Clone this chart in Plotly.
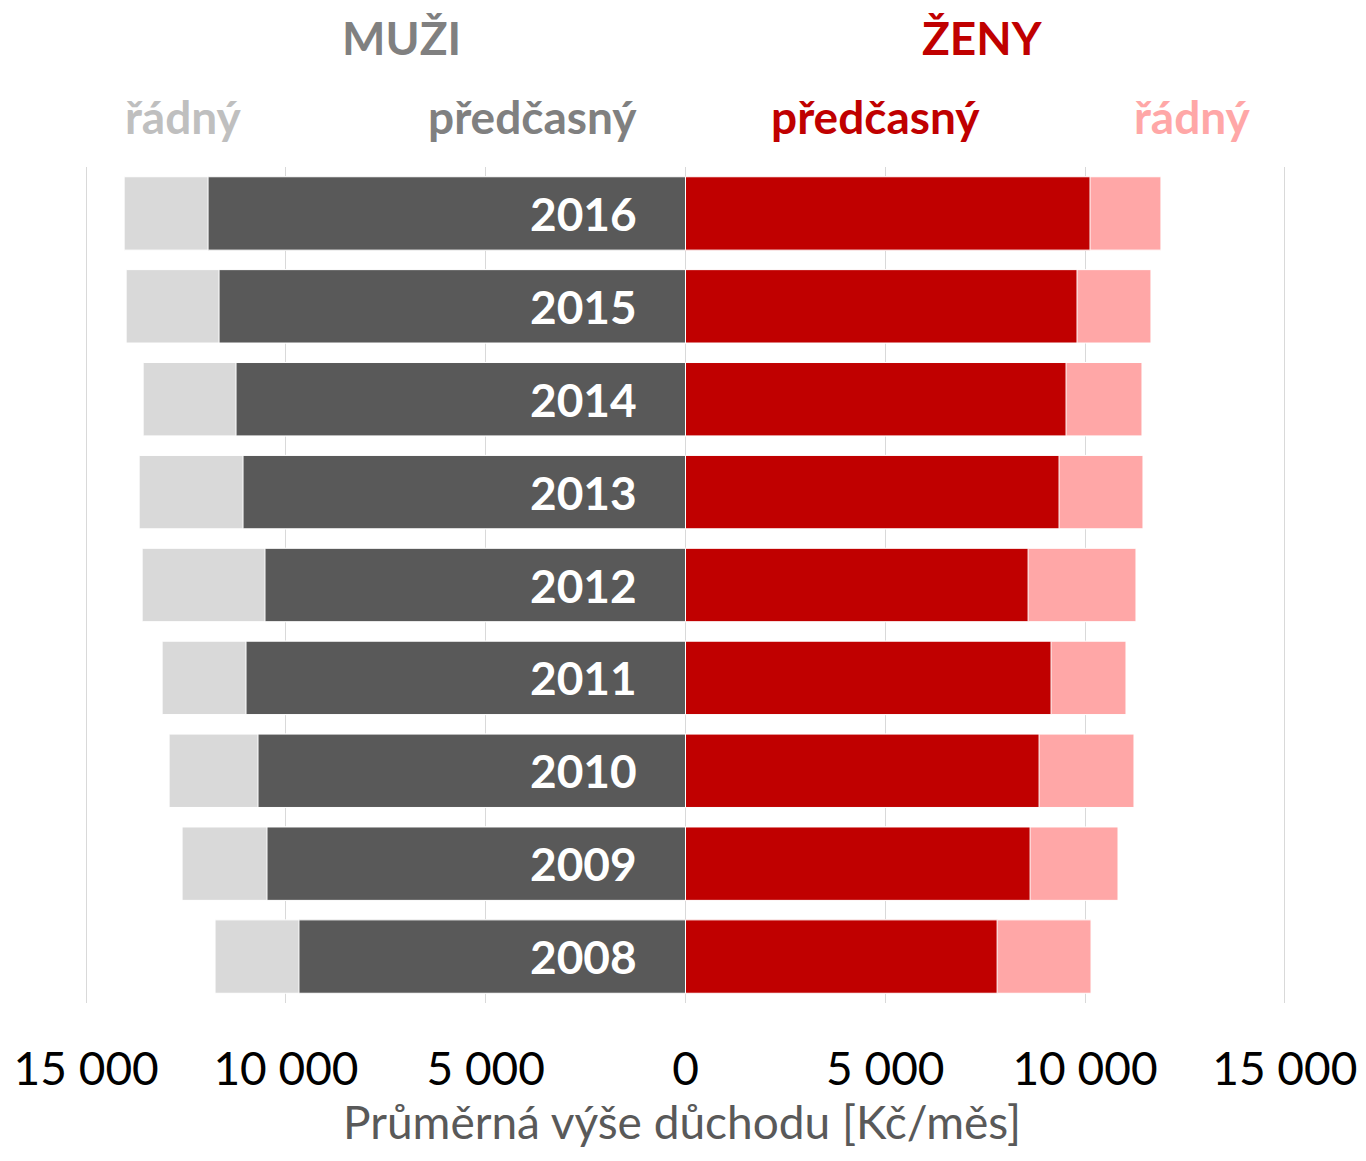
import plotly.graph_objects as go

years = [2008, 2009, 2010, 2011, 2012, 2013, 2014, 2015, 2016]
men_radny = [11775, 12600, 12925, 13100, 13600, 13675, 13575, 14000, 14050]
men_predcasny = [9675, 10475, 10700, 11000, 10525, 11075, 11250, 11675, 11950]
women_radny = [10150, 10825, 11225, 11025, 11275, 11450, 11425, 11650, 11900]
women_predcasny = [7800, 8625, 8850, 9150, 8575, 9350, 9525, 9800, 10125]

tick_vals = [-15000, -10000, -5000, 0, 5000, 10000, 15000]
tick_text = ["15 000", "10 000", "5 000", "0", "5 000", "10 000", "15 000"]
x_title = "Průměrná výše důchodu [Kč/měs]"

FONT = "Lato"
C_LGRAY = "#D9D9D9"
C_DGRAY = "#595959"
C_RED = "#C00000"
C_PINK = "#FFA7A7"

fig = go.Figure()
line = dict(color="white", width=1)
fig.add_trace(go.Bar(y=years, x=[-float(v) for v in men_radny], orientation="h",
                     marker=dict(color=C_LGRAY, line=line), name="Muži řádný"))
fig.add_trace(go.Bar(y=years, x=[-float(v) for v in men_predcasny], orientation="h",
                     marker=dict(color=C_DGRAY, line=line), name="Muži předčasný"))
fig.add_trace(go.Bar(y=years, x=[float(v) for v in women_radny], orientation="h",
                     marker=dict(color=C_PINK, line=line), name="Ženy řádný"))
fig.add_trace(go.Bar(y=years, x=[float(v) for v in women_predcasny], orientation="h",
                     marker=dict(color=C_RED, line=line), name="Ženy předčasný"))

for yr in years:
    fig.add_annotation(x=-1175, y=yr, xref="x", yref="y", text=f"<b>{yr}</b>",
                       showarrow=False, xanchor="right", yanchor="middle",
                       font=dict(family=FONT, size=46, color="white"))

headers = [
    ("MUŽI", -7100, 1.155, "#808080"),
    ("ŽENY", 7425, 1.155, C_RED),
    ("řádný", -12575, 1.060, "#BFBFBF"),
    ("předčasný", -3825, 1.060, "#808080"),
    ("předčasný", 4750, 1.060, C_RED),
    ("řádný", 12700, 1.060, C_PINK),
]
for txt, xv, yv, col in headers:
    fig.add_annotation(x=xv, y=yv, xref="x", yref="paper", text=f"<b>{txt}</b>",
                       showarrow=False, xanchor="center", yanchor="middle",
                       font=dict(family=FONT, size=46, color=col))

# axis title
fig.add_annotation(x=0.497, y=-0.142, xref="paper", yref="paper", text=x_title,
                   showarrow=False, xanchor="center", yanchor="middle",
                   font=dict(family=FONT, size=46, color="#595959"))

fig.update_layout(
    width=1350, height=1145,
    margin=dict(l=77, r=72, t=159, b=150),
    barmode="overlay", bargap=0.21,
    plot_bgcolor="white", paper_bgcolor="white",
    showlegend=False,
    font=dict(family=FONT),
)
fig.update_xaxes(range=[-15030, 15030], tickvals=tick_vals, ticktext=tick_text,
                 showgrid=True, gridcolor="#D9D9D9", gridwidth=1,
                 zeroline=True, zerolinecolor="#D9D9D9", zerolinewidth=1,
                 tickfont=dict(family=FONT, size=46, color="black"),
                 ticklabelstandoff=35, ticklabeloverflow="allow", automargin=False,
                 fixedrange=True)
fig.update_yaxes(type="linear", range=[2007.5, 2016.5],
                 showticklabels=False, automargin=False,
                 showgrid=False, zeroline=False, fixedrange=True)

fig.write_html("out.html")
